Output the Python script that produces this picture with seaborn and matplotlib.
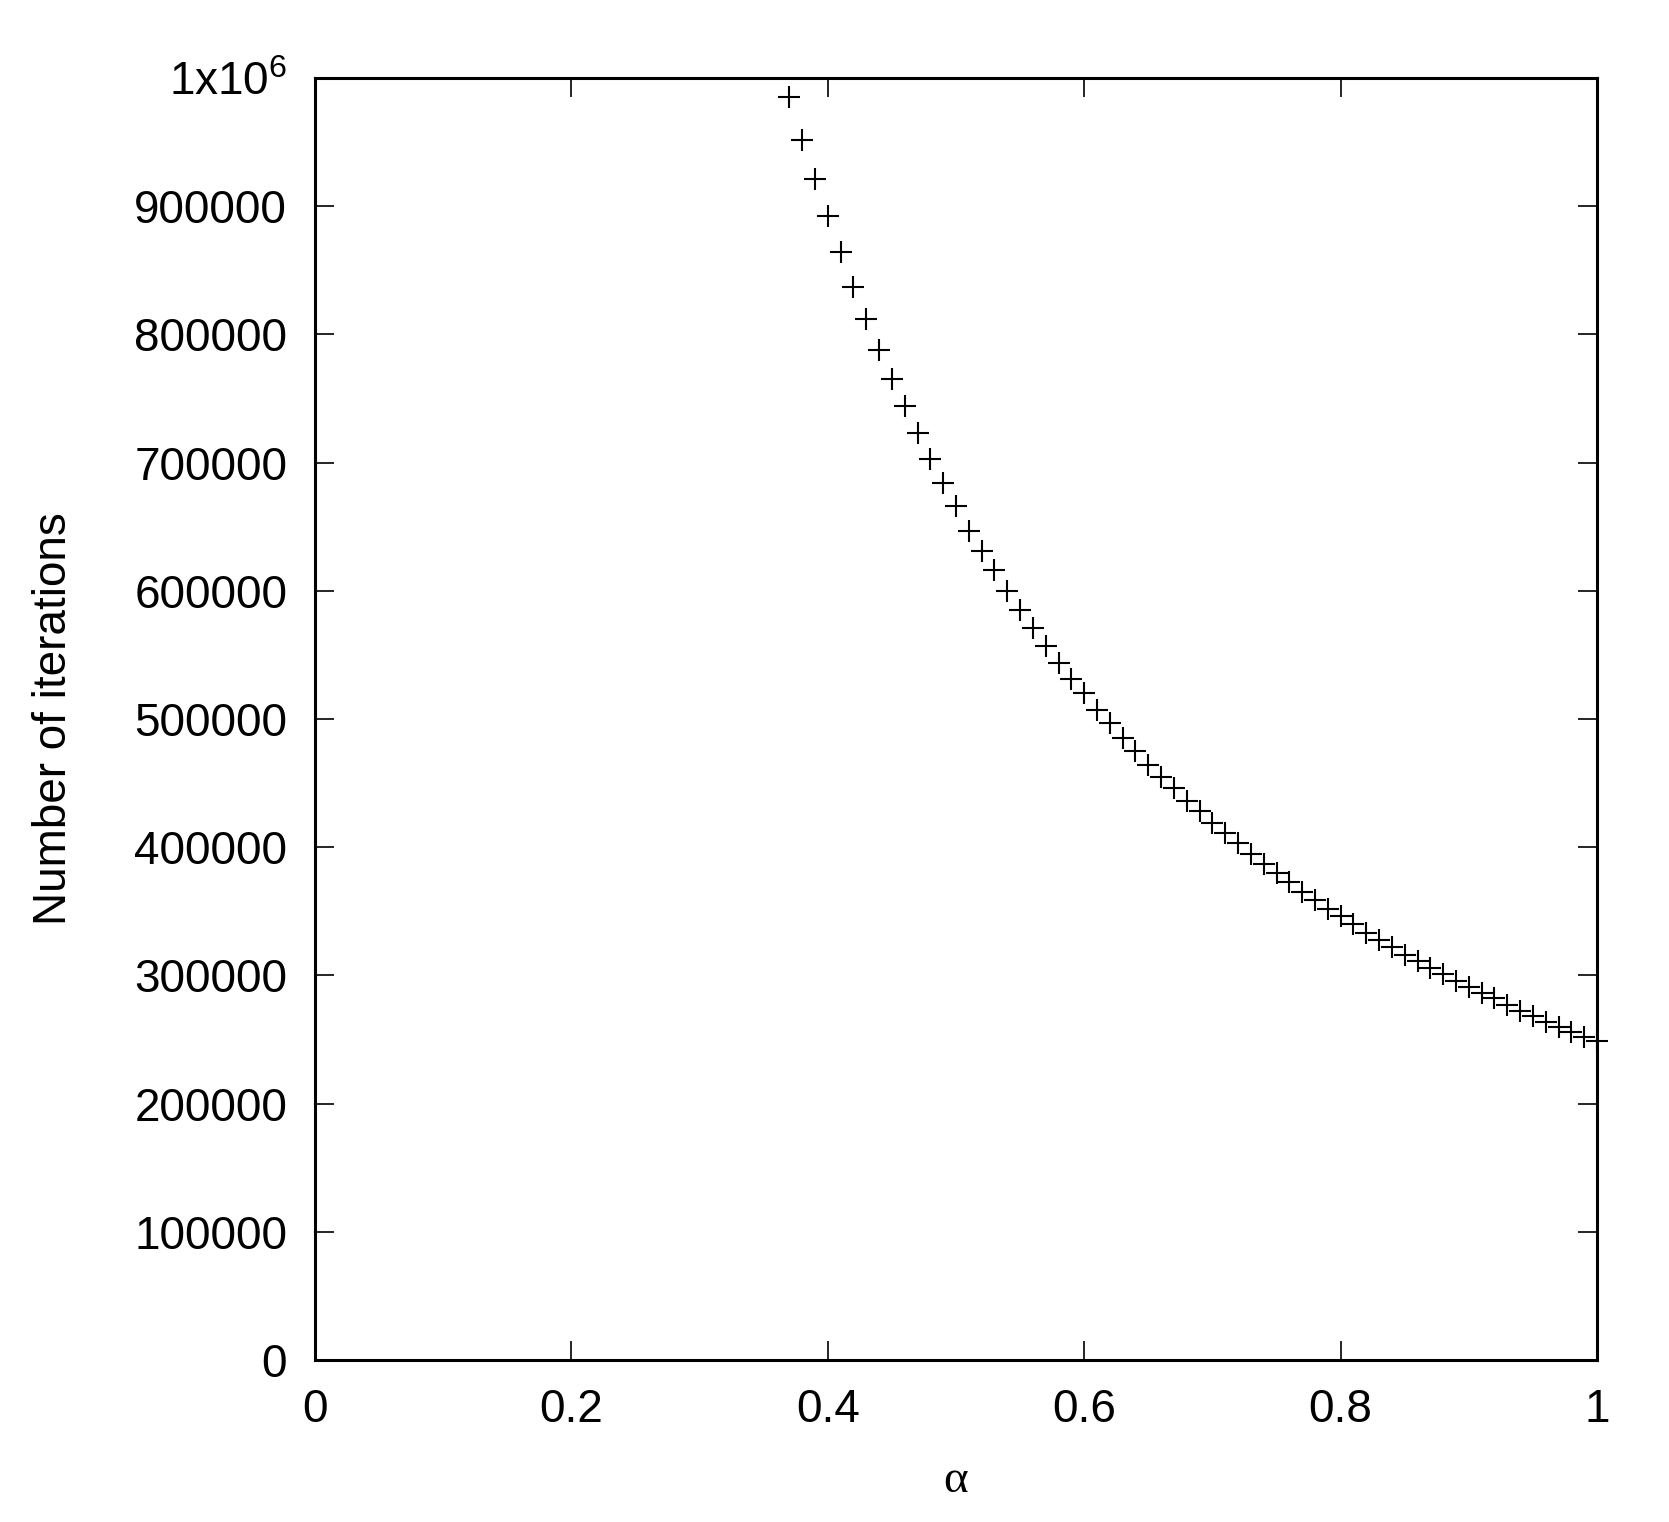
import matplotlib
matplotlib.use("Agg")
import matplotlib.pyplot as plt
import seaborn as sns
import pandas as pd

alpha = [0.37, 0.38, 0.39, 0.40, 0.41, 0.42, 0.43, 0.44, 0.45, 0.46,
         0.47, 0.48, 0.49, 0.50, 0.51, 0.52, 0.53, 0.54, 0.55, 0.56,
         0.57, 0.58, 0.59, 0.60, 0.61, 0.62, 0.63, 0.64, 0.65, 0.66,
         0.67, 0.68, 0.69, 0.70, 0.71, 0.72, 0.73, 0.74, 0.75, 0.76,
         0.77, 0.78, 0.79, 0.80, 0.81, 0.82, 0.83, 0.84, 0.85, 0.86,
         0.87, 0.88, 0.89, 0.90, 0.91, 0.92, 0.93, 0.94, 0.95, 0.96,
         0.97, 0.98, 0.99, 1.00]
iterations = [985000, 952000, 921000, 892000, 864000, 837000, 812000, 788000, 765000, 744000,
              723000, 703000, 684000, 666000, 647000, 631000, 616000, 600000, 585000, 571000,
              557000, 544000, 531000, 520000, 507000, 497000, 485000, 475000, 464000, 455000,
              446000, 436000, 428000, 419000, 411000, 403000, 395000, 387000, 380000, 373000,
              365000, 359000, 352000, 346000, 340000, 333000, 328000, 322000, 316000, 311000,
              306000, 301000, 296000, 291000, 286000, 282000, 277000, 272000, 268000, 264000,
              260000, 256000, 252000, 249000]

xticks = [0, 0.2, 0.4, 0.6, 0.8, 1]
xticklabels = ["0", "0.2", "0.4", "0.6", "0.8", "1"]
yticks = [0, 100000, 200000, 300000, 400000, 500000, 600000, 700000, 800000, 900000, 1000000]
yticklabels = ["0", "100000", "200000", "300000", "400000", "500000", "600000",
               "700000", "800000", "900000", r"1x10$^{\mathsf{6}}$"]

sns.set_theme(style="white")
plt.rcParams['font.family'] = ['Liberation Sans', 'DejaVu Sans']
plt.rcParams['mathtext.fontset'] = 'custom'
plt.rcParams['mathtext.rm'] = 'Liberation Sans'
plt.rcParams['mathtext.sf'] = 'Liberation Sans'
plt.rcParams['mathtext.it'] = 'Liberation Sans'
plt.rcParams['mathtext.default'] = 'regular'
plt.rcParams['text.color'] = 'black'
plt.rcParams['axes.labelcolor'] = 'black'

df = pd.DataFrame({"alpha": alpha, "iterations": iterations})

fig = plt.figure(figsize=(16.69, 15.22), dpi=100)
ax = fig.add_axes([315 / 1669, 1 - 1360 / 1522, (1597 - 315) / 1669, (1360 - 78) / 1522])

sns.scatterplot(data=df, x="alpha", y="iterations", marker="+", s=256,
                color="black", linewidth=1.5, ax=ax, clip_on=False, zorder=5)

ax.set_xlim(0, 1)
ax.set_ylim(0, 1000000)
ax.set_xticks(xticks)
ax.set_xticklabels(xticklabels)
ax.set_yticks(yticks)
ax.set_yticklabels(yticklabels)
ax.tick_params(axis="both", which="major", direction="in", length=14, width=1.2,
               colors="black", labelsize=33, pad=20,
               top=True, right=True, bottom=True, left=True)
for sp in ax.spines.values():
    sp.set_linewidth(2.2)
    sp.set_color("black")
    sp.set_visible(True)

ax.set_xlabel("α", fontsize=34, family=['Liberation Serif', 'DejaVu Serif'],
              labelpad=20, color="black")
ax.set_ylabel("Number of iterations", fontsize=33, labelpad=42, color="black")

fig.savefig("out.png", dpi=100)
